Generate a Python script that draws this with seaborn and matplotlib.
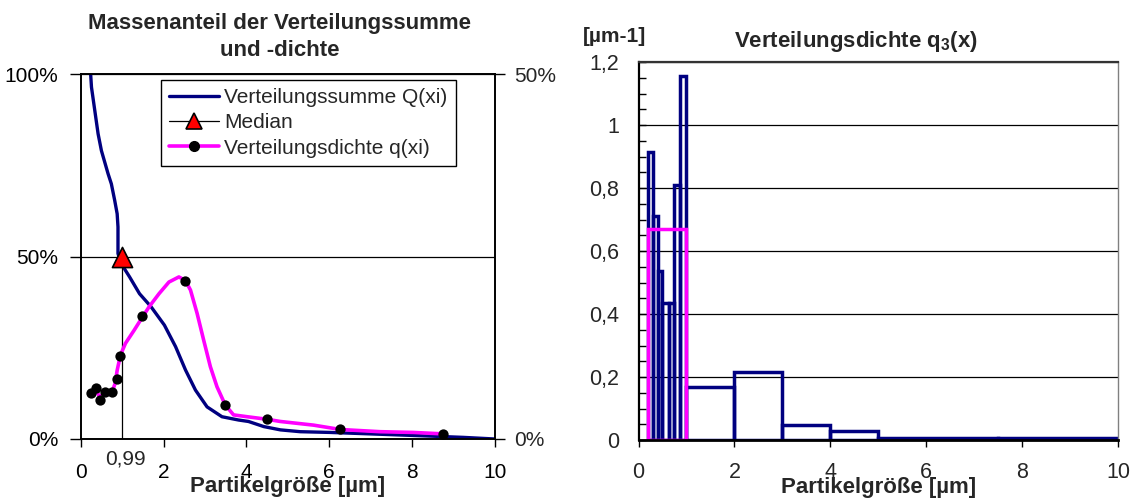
import matplotlib
matplotlib.use("Agg")
import matplotlib.pyplot as plt
import matplotlib.transforms as mtransforms
from matplotlib.lines import Line2D
from matplotlib.ticker import FuncFormatter, MultipleLocator, FixedLocator
import seaborn as sns

# ---------------- data ----------------
# Verteilungssumme Q(xi) path [µm], [%]
Q_x = [0.24, 0.26, 0.34, 0.42, 0.50, 0.66, 0.74, 0.82, 0.88, 0.90, 0.90, 0.98,
       1.18, 1.42, 1.70, 2.02, 2.29, 2.53, 2.77, 3.05, 3.41, 3.81, 4.05, 4.42,
       4.82, 5.30, 6.02, 7.23, 8.43, 9.23, 10.0]
Q_y = [100.0, 96.4, 90.0, 83.6, 79.0, 72.7, 69.9, 65.4, 61.7, 58.1, 50.8, 48.0,
       44.4, 39.8, 36.2, 31.2, 25.3, 18.9, 13.4, 8.8, 6.1, 5.2, 4.8, 3.4,
       2.5, 2.0, 1.8, 1.3, 0.8, 0.45, 0.0]

# Verteilungsdichte q(xi) line path [µm], [%] (right axis)
q_line_x = [0.38, 0.47, 0.56, 0.76, 0.83, 0.88, 0.96, 1.08, 1.29, 1.49, 1.65,
            1.89, 2.13, 2.37, 2.53, 2.65, 2.81, 2.97, 3.13, 3.29, 3.49, 3.69,
            4.02, 4.50, 4.82, 5.62, 6.27, 7.23, 8.03, 8.75]
q_line_y = [6.5, 5.7, 6.3, 6.5, 7.6, 9.4, 11.5, 13.1, 14.9, 16.7, 18.1,
            19.9, 21.5, 22.2, 21.7, 20.4, 17.2, 13.5, 9.9, 7.15, 4.65, 3.3,
            3.05, 2.7, 2.4, 1.9, 1.3, 1.0, 0.9, 0.7]

# Verteilungsdichte q(xi) points
q_dot_x = [0.26, 0.38, 0.47, 0.58, 0.76, 0.87, 0.95, 1.49, 2.51, 3.49, 4.50, 6.27, 8.75]
q_dot_y = [6.25, 7.0, 5.3, 6.47, 6.47, 8.2, 11.4, 16.8, 21.7, 4.65, 2.75, 1.35, 0.7]

# Median
median_x = 0.99
median_y = 50.0

# Histogram q3(x) [µm-1]
bin_edges = [0.2, 0.3, 0.4, 0.5, 0.63, 0.75, 0.87, 1.0, 2.0, 3.0, 4.0, 5.0, 7.5, 10.0]
bin_heights = [0.915, 0.71, 0.537, 0.436, 0.436, 0.81, 1.155, 0.168, 0.217, 0.049,
               0.027, 0.005, 0.005]
avg_edges = [0.2, 1.0]
avg_heights = [0.67]

x_ticks = [0, 2, 4, 6, 8, 10]
left_yticks = [0, 50, 100]
right_yticks = [0, 50]
hist_yticks = [0, 0.2, 0.4, 0.6, 0.8, 1.0, 1.2]

# ---------------- style ----------------
sns.set_style("white")
plt.rcParams['font.family'] = ['Liberation Sans', 'DejaVu Sans']
plt.rcParams['mathtext.fontset'] = 'custom'
plt.rcParams['mathtext.rm'] = 'Liberation Sans'
plt.rcParams['mathtext.it'] = 'Liberation Sans'
plt.rcParams['mathtext.bf'] = 'Liberation Sans:bold'

NAVY = '#000080'
MAGENTA = '#FF00FF'
FS = 15

W, H = 1132, 499
fig = plt.figure(figsize=(W / 100, H / 100), dpi=100)
fig.patch.set_facecolor('white')

# ================= LEFT CHART =================
axL = fig.add_axes([80.7 / W, 1 - 439 / H, 414.3 / W, 365 / H])
axL.set_xlim(0, 10)
axL.set_ylim(0, 100)
axL.set_xticks(x_ticks)
axL.set_yticks(left_yticks)
axL.yaxis.set_major_formatter(FuncFormatter(lambda v, p: f"{v:.0f}%"))
axL.grid(axis='y', color='black', lw=0.9)
axL.grid(axis='x', visible=False)
axL.set_axisbelow(True)
for s in axL.spines.values():
    s.set_color('black')
    s.set_linewidth(1.2)
axL.tick_params(axis='both', direction='out', width=1, color='black',
                labelsize=FS, colors='black')
axL.tick_params(axis='x', length=6, pad=11, bottom=True)
axL.tick_params(axis='y', length=8, pad=8, left=True)

sns.lineplot(x=Q_x, y=Q_y, sort=False, estimator=None, color=NAVY, lw=2.4, ax=axL)
sns.lineplot(x=[median_x, median_x], y=[0, median_y], sort=False, estimator=None,
             color='black', lw=0.9, ax=axL)

ax2 = axL.twinx()
ax2.set_ylim(0, 50)
ax2.set_yticks(right_yticks)
ax2.yaxis.set_major_formatter(FuncFormatter(lambda v, p: f"{v:.0f}%"))
ax2.tick_params(axis='y', direction='out', length=7, width=1, color='black',
                labelsize=FS, pad=7, right=True)
for s in ax2.spines.values():
    s.set_color('black')
    s.set_linewidth(1.2)
ax2.grid(False)

sns.lineplot(x=q_line_x, y=q_line_y, sort=False, estimator=None, color=MAGENTA,
             lw=2.6, ax=ax2)
sns.scatterplot(x=q_dot_x, y=q_dot_y, color='black', s=55, edgecolor='black',
                linewidth=0, ax=ax2, zorder=5)
# median marker (left scale 0-100 shown on the right scale 0-50)
sns.scatterplot(x=[median_x], y=[median_y / 2], marker='^', s=210, color='red',
                edgecolor='black', linewidth=1.2, ax=ax2, zorder=6)

axL.set_xlabel("Partikelgröße [µm]", fontsize=16, fontweight='bold')
axL.xaxis.set_label_coords(0.5, -0.102)
axL.set_ylabel("")
ax2.set_ylabel("")

blend = mtransforms.blended_transform_factory(axL.transData, axL.transAxes)
axL.text(median_x + 0.08, -0.055, f"{median_x:.2f}".replace('.', ','),
         transform=blend, ha='center', va='center', fontsize=FS)

handles = [
    Line2D([], [], color=NAVY, lw=2.4),
    Line2D([], [], color='black', lw=0.9, marker='^', markersize=12,
           markerfacecolor='red', markeredgecolor='black', markeredgewidth=1.2),
    Line2D([], [], color=MAGENTA, lw=2.6, marker='o', markersize=7,
           markerfacecolor='black', markeredgecolor='black'),
]
labels = ["Verteilungssumme Q(xi)", "Median", "Verteilungsdichte q(xi)"]
leg = ax2.legend(handles, labels, loc='upper right', bbox_to_anchor=(0.906, 0.984),
                 borderaxespad=0, fontsize=FS, frameon=True, fancybox=False,
                 edgecolor='black', framealpha=1, handlelength=2.4,
                 handletextpad=0.25, labelspacing=0.3, borderpad=0.4)
leg.get_frame().set_linewidth(1.0)

fig.text(280 / W, 1 - 23 / H, "Massenanteil der Verteilungssumme", ha='center',
         va='center', fontsize=16, fontweight='bold')
fig.text(280 / W, 1 - 51 / H, "und -dichte", ha='center', va='center',
         fontsize=16, fontweight='bold')

# ================= RIGHT CHART =================
axR = fig.add_axes([638.5 / W, 1 - 440 / H, 479.5 / W, 378 / H])
bin_centers = [(a + b) / 2 for a, b in zip(bin_edges[:-1], bin_edges[1:])]
sns.histplot(x=bin_centers, weights=bin_heights, bins=bin_edges, fill=False,
             element='bars', color=NAVY, linewidth=2.5, ax=axR)
avg_centers = [(a + b) / 2 for a, b in zip(avg_edges[:-1], avg_edges[1:])]
sns.histplot(x=avg_centers, weights=avg_heights, bins=avg_edges, fill=False,
             element='bars', color=MAGENTA, linewidth=2.5, ax=axR)

axR.set_xlim(0, 10)
axR.set_ylim(0, 1.2)
axR.set_xticks(x_ticks)
axR.yaxis.set_major_locator(FixedLocator(hist_yticks))
axR.yaxis.set_minor_locator(MultipleLocator(0.05))
axR.yaxis.set_major_formatter(FuncFormatter(lambda v, p: f"{v:g}".replace('.', ',')))
axR.grid(axis='y', which='major', color='black', lw=0.9)
axR.grid(axis='x', visible=False)
axR.set_axisbelow(True)
axR.tick_params(axis='y', which='both', direction='in', length=5, width=1,
                color='black', labelsize=15.5, pad=14, left=True)
axR.tick_params(axis='x', direction='out', length=5, width=1, color='black',
                labelsize=15.5, pad=11, bottom=True)
axR.spines['left'].set_color('black')
axR.spines['left'].set_linewidth(1.6)
axR.spines['bottom'].set_color('black')
axR.spines['bottom'].set_linewidth(2.0)
axR.spines['top'].set_color('#333333')
axR.spines['top'].set_linewidth(1.6)
axR.spines['right'].set_color('#808080')
axR.spines['right'].set_linewidth(1.0)
axR.set_ylabel("")
axR.set_xlabel("Partikelgröße [µm]", fontsize=16, fontweight='bold')
axR.xaxis.set_label_coords(0.5, -0.097)

fig.text(615 / W, 1 - 37 / H, "[µm-1]", ha='center', va='center', fontsize=FS,
         fontweight='bold')
fig.text(856 / W, 1 - 41 / H, r"Verteilungsdichte $\mathbf{q_3}$(x)", ha='center',
         va='center', fontsize=16, fontweight='bold')

fig.savefig("out.png", dpi=100, facecolor='white')
